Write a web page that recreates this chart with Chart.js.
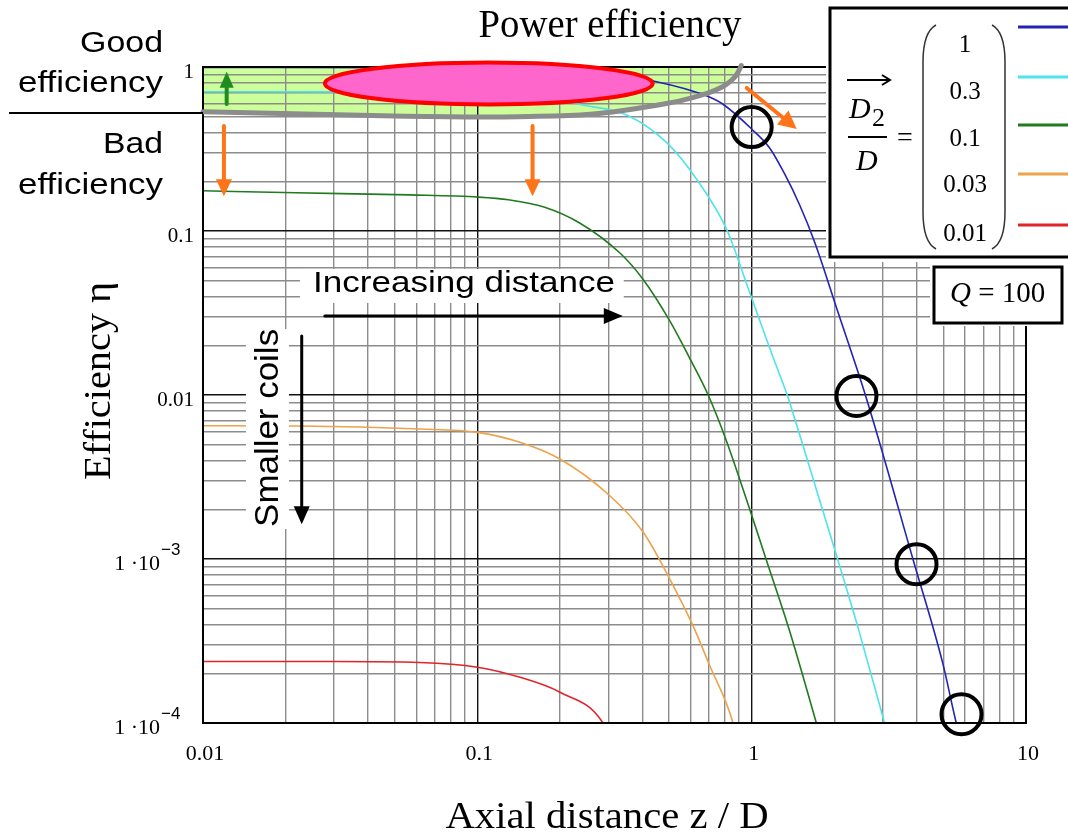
<!DOCTYPE html>
<html>
<head>
<meta charset="utf-8">
<script src="https://cdn.jsdelivr.net/npm/chart.js@4.4.1/dist/chart.umd.min.js"></script>
<style>
    html, body { margin: 0; padding: 0; background: #fff; }
    #wrap { width: 1068px; height: 835px; }
</style>
</head>
<body>
<div id="wrap"><canvas id="chartEfficiency" width="1068" height="835"></canvas></div>
<script>
// legend values D2/D and line colours
const ratioLabels = ['1', '0.3', '0.1', '0.03', '0.01'];
const seriesColors = ['#2424b4', '#4fe3ea', '#207a20', '#eca34a', '#e0242a'];

// axial distance z/D (x) and efficiency (y)
const ratio1X = [0.01, 0.05, 0.1, 0.2, 0.3, 0.45, 0.684, 0.784, 1.0, 1.163, 1.319, 1.496, 1.696, 2.057, 2.602, 3.87, 4.977, 5.57, 5.97];
const ratio1Y = [0.995, 0.99, 0.98, 0.95, 0.9, 0.814, 0.668, 0.595, 0.419, 0.3208, 0.2227, 0.1441, 0.0857, 0.0325, 0.0099, 0.001, 0.00023, 0.0001, 0.000065];

const ratio03X = [0.01, 0.03, 0.06, 0.1, 0.15, 0.2, 0.242, 0.355, 0.489, 0.63, 0.809, 0.983, 1.19, 1.35, 1.5, 2.005, 2.47, 3.05, 3.32];
const ratio03Y = [0.706, 0.705, 0.70, 0.69, 0.665, 0.625, 0.587, 0.505, 0.347, 0.207, 0.103, 0.0423, 0.0174, 0.0099, 0.00565, 0.00115, 0.000357, 0.0001, 0.00006];

const ratio01X = [0.01, 0.0218, 0.0568, 0.101, 0.13, 0.175, 0.236, 0.331, 0.401, 0.503, 0.594, 0.6914, 0.797, 0.983, 1.131, 1.375, 1.721, 1.876];
const ratio01Y = [0.176, 0.171, 0.166, 0.161, 0.155, 0.14, 0.1119, 0.0734, 0.051, 0.0283, 0.0168, 0.01014, 0.00562, 0.00202, 0.000986, 0.000364, 0.0001, 0.00006];

const ratio003X = [0.01, 0.0226, 0.0617, 0.1, 0.143, 0.2, 0.304, 0.402, 0.503, 0.611, 0.703, 0.855, 0.912];
const ratio003Y = [0.0065, 0.00647, 0.0062, 0.00592, 0.00515, 0.00407, 0.00243, 0.00146, 0.000755, 0.000392, 0.000224, 0.0001, 0.00006];

const ratio001X = [0.01, 0.03, 0.0617, 0.1, 0.143, 0.2, 0.287, 0.309];
const ratio001Y = [0.000237, 0.000237, 0.000234, 0.000219, 0.00019, 0.000154, 0.0001, 0.000074];

// tick labels
const xTickValues = [0.01, 0.1, 1, 10];
const xTickLabels = ['0.01', '0.1', '1', '10'];
const yTickValues = [1, 0.1, 0.01, 0.001, 0.0001];
const yTickLabels = ['1', '0.1', '0.01', '1 \u00b710', '1 \u00b710'];
const yTickExponents = ['', '', '', '\u22123', '\u22124'];

// annotations, in data coordinates
const boundaryX = [0.01, 0.03, 0.1, 0.2, 0.28, 0.425, 0.55, 0.646, 0.74, 0.809, 0.86, 0.891, 0.916];
const boundaryY = [0.534, 0.51, 0.493, 0.503, 0.517, 0.575, 0.62, 0.668, 0.72, 0.78, 0.85, 0.92, 1.02];
const circleX = [1.0, 2.41, 3.99, 5.82];
const circleY = [0.43, 0.00986, 0.00093, 0.000113];

const SERIF = "'Liberation Serif', 'DejaVu Serif', serif";
const SANS = "'Liberation Sans', Arial, sans-serif";

function toPoints(xs, ys) {
    return xs.map((v, i) => ({ x: v, y: ys[i] }));
}

function logGridValues(minExp, maxExp) {
    let vals = [];
    for (let e = minExp; e < maxExp; e++) {
        for (let m = 1; m < 10; m++) vals.push(m * Math.pow(10, e));
    }
    vals.push(Math.pow(10, maxExp));
    return vals;
}

function isDecade(v) {
    const l = Math.log10(v);
    return Math.abs(l - Math.round(l)) < 1e-6;
}

function gridColor(context) {
    return isDecade(context.tick.value) ? '#111' : '#8c8c8c';
}

function smoothPath(ctx, pts, connect) {
    if (connect) ctx.lineTo(pts[0][0], pts[0][1]);
    else ctx.moveTo(pts[0][0], pts[0][1]);
    for (let i = 1; i < pts.length - 1; i++) {
        const mx = (pts[i][0] + pts[i + 1][0]) / 2;
        const my = (pts[i][1] + pts[i + 1][1]) / 2;
        ctx.quadraticCurveTo(pts[i][0], pts[i][1], mx, my);
    }
    const last = pts[pts.length - 1];
    ctx.lineTo(last[0], last[1]);
}

function drawArrow(ctx, x1, y1, x2, y2, color, width, headLen, headHalf) {
    const ang = Math.atan2(y2 - y1, x2 - x1);
    const bx = x2 - headLen * Math.cos(ang);
    const by = y2 - headLen * Math.sin(ang);
    ctx.save();
    ctx.strokeStyle = color;
    ctx.fillStyle = color;
    ctx.lineWidth = width;
    ctx.beginPath();
    ctx.moveTo(x1, y1);
    ctx.lineTo(bx, by);
    ctx.stroke();
    ctx.beginPath();
    ctx.moveTo(x2, y2);
    ctx.lineTo(bx + headHalf * Math.sin(ang), by - headHalf * Math.cos(ang));
    ctx.lineTo(bx - headHalf * Math.sin(ang), by + headHalf * Math.cos(ang));
    ctx.closePath();
    ctx.fill();
    ctx.restore();
}

// text with an optional horizontal stretch to a target width
function drawText(ctx, text, x, y, font, align, targetWidth, rotate) {
    ctx.save();
    ctx.font = font;
    ctx.fillStyle = '#000';
    ctx.textBaseline = 'alphabetic';
    ctx.textAlign = align;
    const w = ctx.measureText(text).width;
    const sx = targetWidth ? targetWidth / w : 1;
    ctx.translate(x, y);
    if (rotate) ctx.rotate(-Math.PI / 2);
    ctx.scale(sx, 1);
    ctx.fillText(text, 0, 0);
    ctx.restore();
}

const annotationPlugin = {
    id: 'annotations',
    beforeDraw(chart) {
        const { ctx, chartArea: a } = chart;
        const xs = chart.scales.x, ys = chart.scales.y;
        ctx.save();
        ctx.fillStyle = '#fff';
        ctx.fillRect(0, 0, chart.width, chart.height);
        // good efficiency zone, under the grid
        ctx.beginPath();
        ctx.rect(a.left, a.top, a.right - a.left, a.bottom - a.top);
        ctx.clip();
        const pts = boundaryX.map((v, i) => [xs.getPixelForValue(v), ys.getPixelForValue(boundaryY[i])]);
        ctx.beginPath();
        ctx.moveTo(a.left, a.top - 4);
        ctx.lineTo(pts[pts.length - 1][0], a.top - 4);
        smoothPath(ctx, pts.slice().reverse(), true);
        ctx.closePath();
        ctx.fillStyle = '#ccff99';
        ctx.fill();
        ctx.restore();
    },
    afterDatasetsDraw(chart) {
        const { ctx, chartArea: a } = chart;
        const xs = chart.scales.x, ys = chart.scales.y;
        const px = v => xs.getPixelForValue(v);
        const py = v => ys.getPixelForValue(v);
        ctx.save();

        // white boxes behind the in-plot labels
        ctx.fillStyle = '#fff';
        ctx.fillRect(px(0.02256), py(0.0587), px(0.3418) - px(0.02256), py(0.0364) - py(0.0587));
        ctx.fillRect(px(0.01434), py(0.02526), px(0.02057) - px(0.01434), py(0.001524) - py(0.02526));

        // plot frame (top and right)
        ctx.strokeStyle = '#000';
        ctx.lineWidth = 2;
        ctx.strokeRect(a.left, a.top, a.right - a.left, a.bottom - a.top);

        // grey boundary of the good zone
        const pts = boundaryX.map((v, i) => [px(v), py(boundaryY[i])]);
        ctx.beginPath();
        smoothPath(ctx, pts, false);
        ctx.strokeStyle = '#8c8c8c';
        ctx.lineWidth = 5;
        ctx.lineCap = 'round';
        ctx.stroke();

        // pink ellipse
        const l = px(0.0278), r = px(0.4358), t = py(1.065), b = py(0.5906);
        ctx.beginPath();
        ctx.ellipse((l + r) / 2, (t + b) / 2, (r - l) / 2, (b - t) / 2, 0, 0, Math.PI * 2);
        ctx.fillStyle = '#ff66cc';
        ctx.fill();
        ctx.strokeStyle = '#ff0000';
        ctx.lineWidth = 4;
        ctx.stroke();

        // arrows
        const orange = '#ff7418';
        drawArrow(ctx, px(0.01192), py(0.437), px(0.01192), py(0.163), orange, 4, 17, 8);
        drawArrow(ctx, px(0.159), py(0.437), px(0.159), py(0.163), orange, 4, 17, 8);
        drawArrow(ctx, px(0.959), py(0.745), px(1.459), py(0.419), orange, 4, 18, 9);
        drawArrow(ctx, px(0.0122), py(0.595), px(0.0122), py(0.936), '#1e8c1e', 4, 16, 7);
        drawArrow(ctx, px(0.0278), py(0.0303), px(0.339), py(0.0303), '#000', 3, 19, 8);
        drawArrow(ctx, px(0.0229), py(0.0229), px(0.0229), py(0.00163), '#000', 3, 18, 8);

        // black circles
        ctx.strokeStyle = '#000';
        ctx.lineWidth = 4;
        circleX.forEach((v, i) => {
            ctx.beginPath();
            ctx.arc(px(v), py(circleY[i]), 20, 0, Math.PI * 2);
            ctx.stroke();
        });
        ctx.restore();

        drawText(ctx, 'Increasing distance', px(0.0252), py(0.0425), '30px ' + SANS, 'left', 302);
        drawText(ctx, 'Smaller coils', px(0.01876), py(0.0063), '34px ' + SANS, 'center', 198, true);
    },
    afterDraw(chart) {
        const { ctx } = chart;
        const xs = chart.scales.x, ys = chart.scales.y;
        ctx.save();

        // tick labels
        xTickValues.forEach((v, i) => {
            drawText(ctx, xTickLabels[i], xs.getPixelForValue(v) + 2, 760, '22px ' + SERIF, 'center');
        });
        yTickValues.forEach((v, i) => {
            const y = ys.getPixelForValue(v);
            if (yTickExponents[i]) {
                drawText(ctx, yTickLabels[i], 160, y + 11, '22px ' + SERIF, 'right');
                drawText(ctx, yTickExponents[i], 161, y - 4, '17px ' + SANS, 'left');
            } else {
                drawText(ctx, yTickLabels[i], 194, y + 11, '21px ' + SERIF, 'right');
            }
        });

        // axis titles and headline
        drawText(ctx, 'Axial distance z / D', 607, 828, '38px ' + SERIF, 'center', 323);
        drawText(ctx, 'Efficiency \u03b7', 110, 381, '38px ' + SERIF, 'center', 198, true);
        drawText(ctx, 'Power efficiency', 610, 37, '39px ' + SERIF, 'center', 263);

        // good / bad efficiency labels
        drawText(ctx, 'Good', 163, 52, '29px ' + SANS, 'right', 83);
        drawText(ctx, 'efficiency', 163, 92, '29px ' + SANS, 'right', 145);
        drawText(ctx, 'Bad', 163, 153, '29px ' + SANS, 'right', 60);
        drawText(ctx, 'efficiency', 163, 194, '29px ' + SANS, 'right', 145);
        ctx.strokeStyle = '#000';
        ctx.lineWidth = 2;
        ctx.beginPath();
        ctx.moveTo(9, 113);
        ctx.lineTo(chart.chartArea.left, 113);
        ctx.stroke();

        // legend box
        ctx.fillStyle = '#fff';
        ctx.fillRect(826, 4, 250, 258);
        ctx.strokeStyle = '#000';
        ctx.lineWidth = 3;
        ctx.strokeRect(830, 8, 250, 249);

        // D2 / D fraction
        ctx.lineWidth = 2;
        ctx.beginPath();
        ctx.moveTo(847, 80); ctx.lineTo(889, 80);
        ctx.moveTo(882, 75); ctx.lineTo(890, 80); ctx.lineTo(882, 85);
        ctx.stroke();
        drawText(ctx, 'D', 849, 118, 'italic 30px ' + SERIF, 'left');
        drawText(ctx, '2', 872, 126, '26px ' + SERIF, 'left');
        ctx.lineWidth = 2;
        ctx.beginPath();
        ctx.moveTo(848, 137); ctx.lineTo(887, 137);
        ctx.stroke();
        drawText(ctx, 'D', 856, 170, 'italic 30px ' + SERIF, 'left');
        drawText(ctx, '=', 905, 146, '28px ' + SERIF, 'center');

        // matrix brackets
        ctx.lineWidth = 1.5;
        ctx.strokeStyle = '#333';
        ctx.beginPath();
        ctx.moveTo(936, 25);
        ctx.quadraticCurveTo(923, 32, 923, 62);
        ctx.lineTo(923, 212);
        ctx.quadraticCurveTo(923, 242, 936, 249);
        ctx.moveTo(992, 25);
        ctx.quadraticCurveTo(1005, 32, 1005, 62);
        ctx.lineTo(1005, 212);
        ctx.quadraticCurveTo(1005, 242, 992, 249);
        ctx.stroke();

        const rowY = [27, 77, 125, 174, 225];
        const textY = [52, 99, 146, 192, 241];
        ratioLabels.forEach((lab, i) => {
            drawText(ctx, lab, 965, textY[i], '25px ' + SERIF, 'center');
            ctx.strokeStyle = seriesColors[i];
            ctx.lineWidth = 3;
            ctx.beginPath();
            ctx.moveTo(1018, rowY[i]);
            ctx.lineTo(1068, rowY[i]);
            ctx.stroke();
        });

        // Q = 100 box
        ctx.fillStyle = '#fff';
        ctx.fillRect(930, 262, 140, 64);
        ctx.strokeStyle = '#000';
        ctx.lineWidth = 3;
        ctx.strokeRect(934, 267, 128, 56);
        ctx.font = 'italic 29px ' + SERIF;
        const qw = ctx.measureText('Q').width;
        drawText(ctx, 'Q', 950, 302, 'italic 29px ' + SERIF, 'left');
        drawText(ctx, ' = 100', 950 + qw, 302, '29px ' + SERIF, 'left');
        ctx.restore();
    }
};

const seriesX = [ratio1X, ratio03X, ratio01X, ratio003X, ratio001X];
const seriesY = [ratio1Y, ratio03Y, ratio01Y, ratio003Y, ratio001Y];

const datasets = ratioLabels.map((lab, i) => ({
    label: 'D2/D = ' + lab,
    data: toPoints(seriesX[i], seriesY[i]),
    borderColor: seriesColors[i],
    backgroundColor: seriesColors[i],
    borderWidth: 1.6,
    pointRadius: 0,
    cubicInterpolationMode: 'monotone',
    fill: false
}));

const chartEfficiency = new Chart(document.getElementById('chartEfficiency'), {
    type: 'line',
    data: { datasets: datasets },
    options: {
        responsive: false,
        animation: false,
        devicePixelRatio: 1,
        layout: { padding: { left: 203, right: 42, top: 67, bottom: 112 } },
        plugins: {
            legend: { display: false },
            tooltip: { enabled: false }
        },
        scales: {
            x: {
                type: 'logarithmic',
                min: 0.01,
                max: 10,
                afterBuildTicks: axis => { axis.ticks = logGridValues(-2, 1).map(v => ({ value: v })); },
                ticks: { display: false, autoSkip: false },
                grid: { drawTicks: false, color: gridColor, lineWidth: 1.4 },
                border: { display: true, color: '#000', width: 2 }
            },
            y: {
                type: 'logarithmic',
                min: 0.0001,
                max: 1,
                afterBuildTicks: axis => { axis.ticks = logGridValues(-4, 0).map(v => ({ value: v })); },
                ticks: { display: false, autoSkip: false },
                grid: { drawTicks: false, color: gridColor, lineWidth: 1.4 },
                border: { display: true, color: '#000', width: 2 }
            }
        }
    },
    plugins: [annotationPlugin]
});
</script>
</body>
</html>
